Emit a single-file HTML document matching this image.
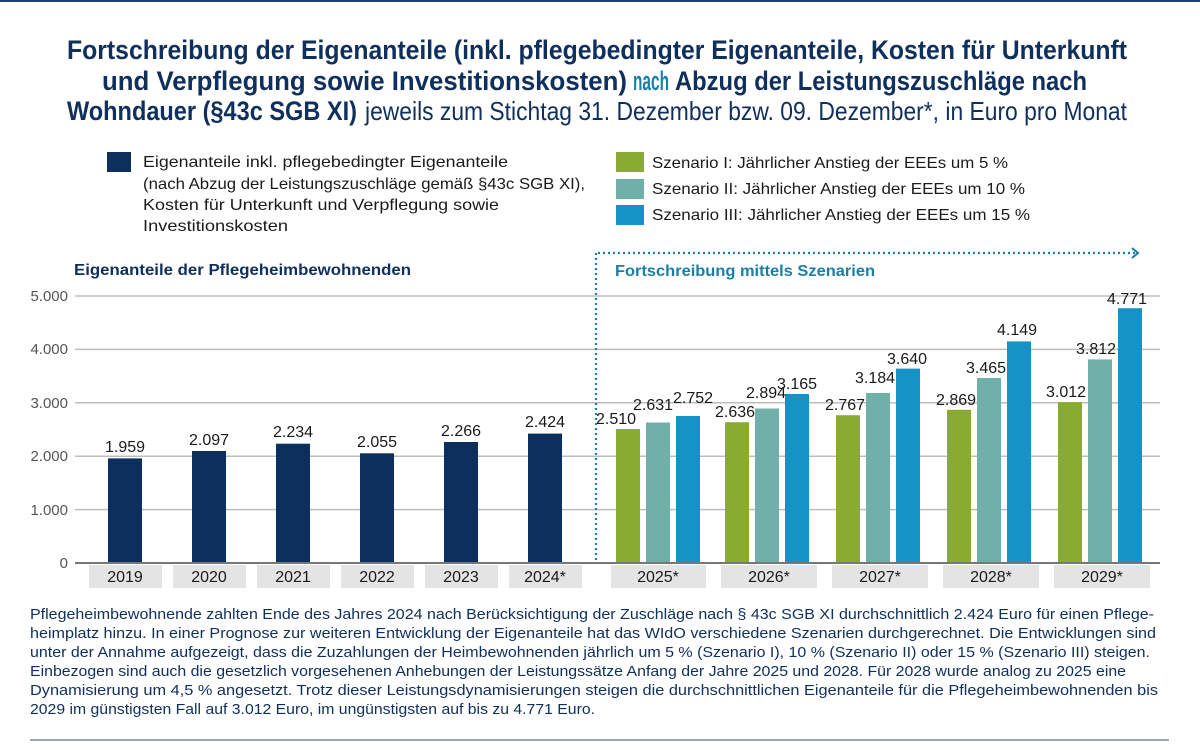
<!DOCTYPE html>
<html><head><meta charset="utf-8"><style>
html,body{margin:0;padding:0;background:#fff;}
svg{display:block;}
text{font-family:"Liberation Sans Narrow","Liberation Sans",sans-serif;}
</style></head><body>
<svg width="1200" height="750" viewBox="0 0 1200 750" xmlns="http://www.w3.org/2000/svg">
<rect x="0" y="0" width="1200" height="2" fill="#1e3f6e"/>
<!-- title -->
<g font-weight="bold" font-size="27" fill="#0f2f5c">
<text x="67" y="59" textLength="1060" lengthAdjust="spacingAndGlyphs">Fortschreibung der Eigenanteile (inkl. pflegebedingter Eigenanteile, Kosten für Unterkunft</text>
<text x="102" y="90" textLength="525" lengthAdjust="spacingAndGlyphs">und Verpflegung sowie Investitionskosten)</text>
<text x="633" y="90" textLength="36" lengthAdjust="spacingAndGlyphs" fill="#1a7fa8">nach</text>
<text x="675" y="90" textLength="412" lengthAdjust="spacingAndGlyphs">Abzug der Leistungszuschläge nach</text>
<text x="67" y="120" textLength="290" lengthAdjust="spacingAndGlyphs">Wohndauer (§43c SGB XI)</text>
</g>
<text x="365" y="120" font-size="26" fill="#0f2f5c" textLength="762" lengthAdjust="spacingAndGlyphs">jeweils zum Stichtag 31. Dezember bzw. 09. Dezember*, in Euro pro Monat</text>
<!-- legend -->
<rect x="107" y="152" width="24" height="20" fill="#0c2f5e"/>
<g font-size="16" fill="#1a1a1a">
<text x="143" y="167" textLength="365" lengthAdjust="spacingAndGlyphs">Eigenanteile inkl. pflegebedingter Eigenanteile</text>
<text x="143" y="189" textLength="442" lengthAdjust="spacingAndGlyphs">(nach Abzug der Leistungszuschläge gemäß §43c SGB XI),</text>
<text x="143" y="210" textLength="356" lengthAdjust="spacingAndGlyphs">Kosten für Unterkunft und Verpflegung sowie</text>
<text x="143" y="231" textLength="145" lengthAdjust="spacingAndGlyphs">Investitionskosten</text>
<text x="652" y="168" textLength="356" lengthAdjust="spacingAndGlyphs">Szenario I: Jährlicher Anstieg der EEEs um 5 %</text>
<text x="652" y="194" textLength="373" lengthAdjust="spacingAndGlyphs">Szenario II:  Jährlicher Anstieg der EEEs um 10 %</text>
<text x="652" y="220" textLength="378" lengthAdjust="spacingAndGlyphs">Szenario III:  Jährlicher Anstieg der EEEs um 15 %</text>
</g>
<rect x="616" y="152" width="28" height="20" fill="#8aab32"/>
<rect x="616" y="179" width="28" height="20" fill="#6fb0a9"/>
<rect x="616" y="205" width="28" height="20" fill="#1593c6"/>
<!-- subtitles -->
<text x="74" y="275" font-size="16" font-weight="bold" fill="#0f2f5c" textLength="337" lengthAdjust="spacingAndGlyphs">Eigenanteile der Pflegeheimbewohnenden</text>
<text x="615" y="276" font-size="16" font-weight="bold" fill="#1a7fa8" textLength="260" lengthAdjust="spacingAndGlyphs">Fortschreibung mittels Szenarien</text>
<!-- grid -->
<g stroke="#bdbdbd" stroke-width="1.5">
<line x1="75" x2="1160" y1="296" y2="296"/>
<line x1="75" x2="1160" y1="349.4" y2="349.4"/>
<line x1="75" x2="1160" y1="402.8" y2="402.8"/>
<line x1="75" x2="1160" y1="456.2" y2="456.2"/>
<line x1="75" x2="1160" y1="509.6" y2="509.6"/>
</g>
<g font-size="15" fill="#555" text-anchor="end">
<text x="68" y="301">5.000</text>
<text x="68" y="354">4.000</text>
<text x="68" y="408">3.000</text>
<text x="68" y="461">2.000</text>
<text x="68" y="515">1.000</text>
<text x="68" y="568">0</text>
</g>
<!-- dotted separator -->
<line x1="596" y1="253" x2="596" y2="563" stroke="#1a7fa8" stroke-width="2.2" stroke-dasharray="2 3"/>
<line x1="598" y1="253" x2="1136" y2="253" stroke="#1a7fa8" stroke-width="2.2" stroke-dasharray="2 3"/>
<path d="M1132 248 L1138 253 L1132 258" fill="none" stroke="#1a7fa8" stroke-width="2"/>
<!-- historic bars -->
<g fill="#0c2f5e">
<rect x="108" y="458.4" width="34" height="104.6"/>
<rect x="192" y="451" width="34" height="112"/>
<rect x="276" y="443.7" width="34" height="119.3"/>
<rect x="360" y="453.3" width="34" height="109.7"/>
<rect x="444" y="442" width="34" height="121"/>
<rect x="528" y="433.6" width="34" height="129.4"/>
</g>
<g font-size="16" fill="#1a1a1a" text-anchor="middle">
<text x="125" y="452">1.959</text>
<text x="209" y="445">2.097</text>
<text x="293" y="437">2.234</text>
<text x="377" y="447">2.055</text>
<text x="461" y="436">2.266</text>
<text x="545" y="427">2.424</text>
</g>
<!-- scenario bars -->
<g>
<rect x="616" y="429" width="24" height="134" fill="#8aab32"/>
<rect x="646" y="422.5" width="24" height="140.5" fill="#6fb0a9"/>
<rect x="676" y="416" width="24" height="147" fill="#1593c6"/>
<rect x="725" y="422.2" width="24" height="140.8" fill="#8aab32"/>
<rect x="755" y="408.5" width="24" height="154.5" fill="#6fb0a9"/>
<rect x="785" y="394" width="24" height="169" fill="#1593c6"/>
<rect x="836" y="415.2" width="24" height="147.8" fill="#8aab32"/>
<rect x="866" y="393" width="24" height="170" fill="#6fb0a9"/>
<rect x="896" y="368.6" width="24" height="194.4" fill="#1593c6"/>
<rect x="947" y="409.8" width="24" height="153.2" fill="#8aab32"/>
<rect x="977" y="378" width="24" height="185" fill="#6fb0a9"/>
<rect x="1007" y="341.4" width="24" height="221.6" fill="#1593c6"/>
<rect x="1058" y="402.2" width="24" height="160.8" fill="#8aab32"/>
<rect x="1088" y="359.4" width="24" height="203.6" fill="#6fb0a9"/>
<rect x="1118" y="308.2" width="24" height="254.8" fill="#1593c6"/>
</g>
<g font-size="16" fill="#1a1a1a" text-anchor="middle">
<text x="616" y="424">2.510</text>
<text x="653" y="410">2.631</text>
<text x="693" y="403">2.752</text>
<text x="735" y="417">2.636</text>
<text x="766" y="398">2.894</text>
<text x="797" y="389">3.165</text>
<text x="845" y="410">2.767</text>
<text x="875" y="383">3.184</text>
<text x="907" y="364">3.640</text>
<text x="956" y="405">2.869</text>
<text x="986" y="373">3.465</text>
<text x="1017" y="335">4.149</text>
<text x="1066" y="397">3.012</text>
<text x="1096" y="354">3.812</text>
<text x="1127" y="304">4.771</text>
</g>
<line x1="75" x2="1160" y1="563" y2="563" stroke="#777" stroke-width="2"/>
<!-- x labels -->
<g fill="#e4e4e4">
<rect x="89" y="565" width="73" height="23"/>
<rect x="173" y="565" width="73" height="23"/>
<rect x="257" y="565" width="73" height="23"/>
<rect x="341" y="565" width="73" height="23"/>
<rect x="425" y="565" width="73" height="23"/>
<rect x="509" y="565" width="73" height="23"/>
<rect x="611" y="565" width="95" height="23"/>
<rect x="721" y="565" width="96" height="23"/>
<rect x="832" y="565" width="96" height="23"/>
<rect x="943" y="565" width="96" height="23"/>
<rect x="1054" y="565" width="96" height="23"/>
</g>
<g font-size="16" fill="#1a1a1a" text-anchor="middle">
<text x="125" y="582">2019</text>
<text x="209" y="582">2020</text>
<text x="293" y="582">2021</text>
<text x="377" y="582">2022</text>
<text x="461" y="582">2023</text>
<text x="545" y="582">2024*</text>
<text x="658" y="582">2025*</text>
<text x="769" y="582">2026*</text>
<text x="880" y="582">2027*</text>
<text x="991" y="582">2028*</text>
<text x="1102" y="582">2029*</text>
</g>
<!-- footer -->
<g font-size="15" fill="#0f2f5c">
<text x="30" y="619" textLength="1124" lengthAdjust="spacingAndGlyphs">Pflegeheimbewohnende zahlten Ende des Jahres 2024 nach Berücksichtigung der Zuschläge nach § 43c SGB XI durchschnittlich 2.424 Euro für einen Pflege-</text>
<text x="30" y="638" textLength="1126" lengthAdjust="spacingAndGlyphs">heimplatz hinzu. In einer Prognose zur weiteren Entwicklung der Eigenanteile hat das WIdO verschiedene Szenarien durchgerechnet. Die Entwicklungen sind</text>
<text x="30" y="657" textLength="1120" lengthAdjust="spacingAndGlyphs">unter der Annahme aufgezeigt, dass die Zuzahlungen der Heimbewohnenden jährlich um 5 % (Szenario I), 10 % (Szenario II) oder 15 % (Szenario III) steigen.</text>
<text x="30" y="676" textLength="1096" lengthAdjust="spacingAndGlyphs">Einbezogen sind auch die gesetzlich vorgesehenen Anhebungen der Leistungssätze Anfang der Jahre 2025 und 2028. Für 2028 wurde analog zu 2025 eine</text>
<text x="30" y="695" textLength="1128" lengthAdjust="spacingAndGlyphs">Dynamisierung um 4,5 % angesetzt. Trotz dieser Leistungsdynamisierungen steigen die durchschnittlichen Eigenanteile für die Pflegeheimbewohnenden bis</text>
<text x="30" y="714" textLength="565" lengthAdjust="spacingAndGlyphs">2029 im günstigsten Fall auf 3.012 Euro, im ungünstigsten auf bis zu 4.771 Euro.</text>
</g>
<line x1="30" x2="1169" y1="740" y2="740" stroke="#7d8ca3" stroke-width="1.5"/>
</svg>
</body></html>
